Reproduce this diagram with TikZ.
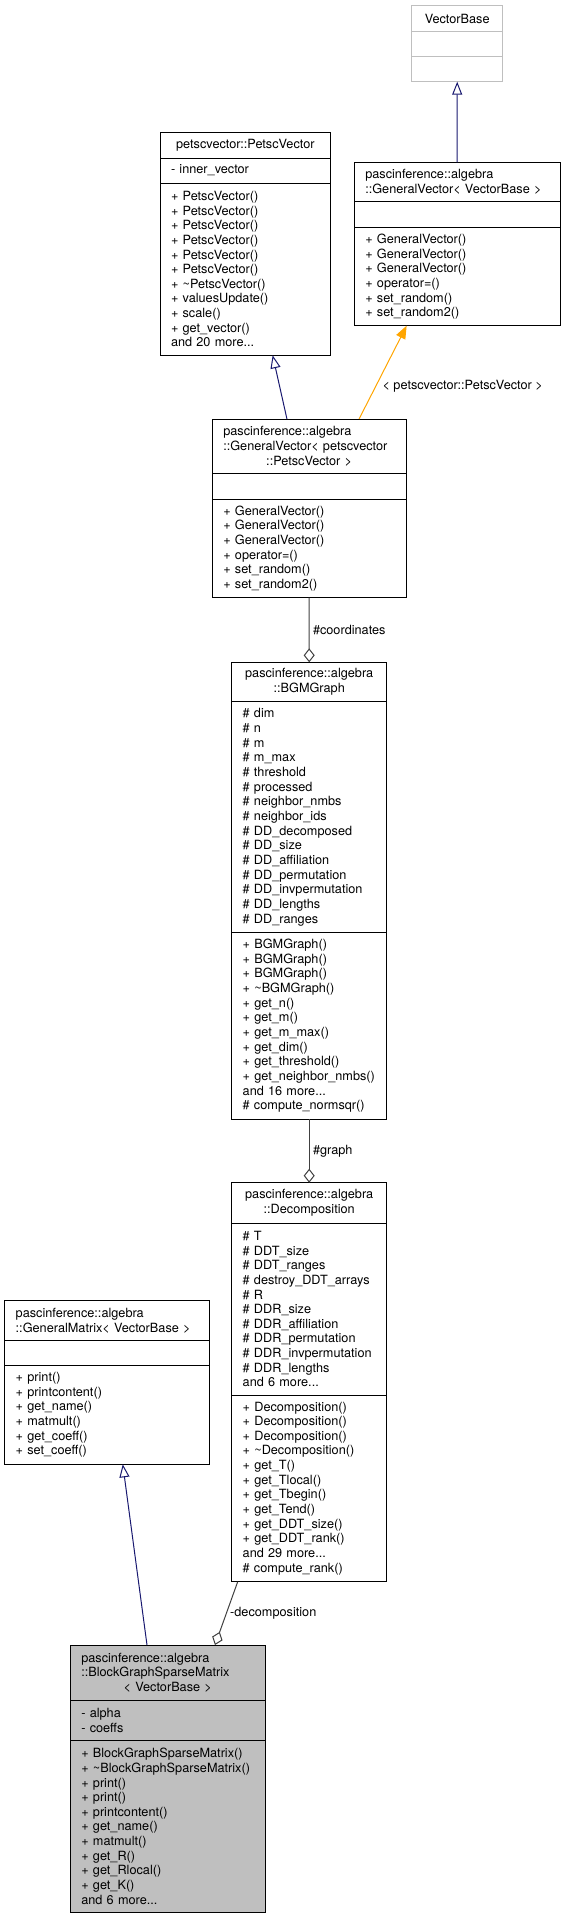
\documentclass[tikz,border=0pt]{standalone}
\usepackage{fontspec}
\setmainfont{TeX Gyre Heros}
\usepackage{tikz}
\usetikzlibrary{arrows.meta,positioning}
\definecolor{inhblue}{RGB}{25,25,112}
\definecolor{tplorange}{RGB}{255,165,0}
\definecolor{usegray}{RGB}{64,64,64}
\definecolor{extgray}{RGB}{191,191,191}

\begin{document}
\begin{tikzpicture}[
  x=1pt, y=-1pt,
  font=\fontsize{12.7}{14.65}\selectfont,
  class part/.style={rectangle, draw=black, line width=1pt, outer sep=0pt,
    inner xsep=11pt, inner ysep=1pt, align=left,
    execute at begin node={\rightskip=0pt plus 1fil minus 60pt\relax}},
  class head/.style={class part,
    execute at begin node={\let\\=\endgraf\leftskip=0pt plus 1fil\rightskip=0pt plus 1fil minus 60pt\parfillskip=0pt\relax}},
  inherit edge/.style={draw=inhblue, line width=1pt, -{Triangle[open, length=13pt, width=10pt]}},
  template edge/.style={draw=tplorange, line width=1pt, -{Triangle[length=13pt, width=10pt]}},
  usage edge/.style={draw=usegray, line width=1pt, -{Diamond[open, length=14pt, width=11pt]}},
  edge label/.style={text=black}
]
  \useasboundingbox (0,0) rectangle (565,1919);

  % VectorBase (external class, grey frame)
  \node[class head, draw=extgray, text width=69pt, minimum height=26pt, anchor=north west] (vb-head) at (411.7, 5.7) {VectorBase};
  \node[class part, draw=extgray, text width=69pt, minimum height=25pt, below=0pt of vb-head] (vb-attr) {};
  \node[class part, draw=extgray, text width=69pt, minimum height=25pt, below=0pt of vb-attr] (vb-ops) {};

  % petscvector::PetscVector
  \node[class head, text width=148.7pt, minimum height=25.3pt, anchor=north west] (pv-head) at (160, 132.7) {petscvector::PetscVector};
  \node[class part, text width=148.7pt, minimum height=25pt, below=0pt of pv-head] (pv-attr) {- inner\_vector};
  \node[class part, text width=148.7pt, minimum height=172.3pt, below=0pt of pv-attr] (pv-ops) {%
    + PetscVector()\\+ PetscVector()\\+ PetscVector()\\+ PetscVector()\\+ PetscVector()\\+ PetscVector()\\
    + \textasciitilde PetscVector()\\+ valuesUpdate()\\+ scale()\\+ get\_vector()\\and 20 more...};

  % GeneralVector< VectorBase >
  \node[class part, text width=183.7pt, minimum height=39.4pt, anchor=north west] (gvvb-head) at (354.3, 162.3) {pascinference::algebra\\::GeneralVector< VectorBase >};
  \node[class part, text width=183.7pt, minimum height=26pt, below=0pt of gvvb-head] (gvvb-attr) {};
  \node[class part, text width=183.7pt, minimum height=98pt, below=0pt of gvvb-attr] (gvvb-ops) {%
    + GeneralVector()\\+ GeneralVector()\\+ GeneralVector()\\+ operator=()\\+ set\_random()\\+ set\_random2()};

  % GeneralVector< petscvector::PetscVector >
  \node[class part, text width=171.7pt, minimum height=54.7pt, anchor=north west] (gvp-head) at (212.3, 419) {pascinference::algebra\\::GeneralVector< petscvector\\\makebox[\linewidth]{::PetscVector >}};
  \node[class part, text width=171.7pt, minimum height=25.3pt, below=0pt of gvp-head] (gvp-attr) {};
  \node[class part, text width=171.7pt, minimum height=98.7pt, below=0pt of gvp-attr] (gvp-ops) {%
    + GeneralVector()\\+ GeneralVector()\\+ GeneralVector()\\+ operator=()\\+ set\_random()\\+ set\_random2()};

  % BGMGraph
  \node[class head, text width=133pt, minimum height=39.4pt, anchor=north west] (bgm-head) at (231.7, 662.3) {pascinference::algebra\\::BGMGraph};
  \node[class part, text width=133pt, minimum height=231pt, below=0pt of bgm-head] (bgm-attr) {%
    \# dim\\\# n\\\# m\\\# m\_max\\\# threshold\\\# processed\\\# neighbor\_nmbs\\\# neighbor\_ids\\
    \# DD\_decomposed\\\# DD\_size\\\# DD\_affiliation\\\# DD\_permutation\\\# DD\_invpermutation\\
    \# DD\_lengths\\\# DD\_ranges};
  \node[class part, text width=133pt, minimum height=186.3pt, below=0pt of bgm-attr] (bgm-ops) {%
    + BGMGraph()\\+ BGMGraph()\\+ BGMGraph()\\+ \textasciitilde BGMGraph()\\+ get\_n()\\+ get\_m()\\
    + get\_m\_max()\\+ get\_dim()\\+ get\_threshold()\\+ get\_neighbor\_nmbs()\\and 16 more...\\
    \# compute\_normsqr()};

  % Decomposition
  \node[class head, text width=133pt, minimum height=40.6pt, anchor=north west] (dec-head) at (231.7, 1182.7) {pascinference::algebra\\::Decomposition};
  \node[class part, text width=133pt, minimum height=171.7pt, below=0pt of dec-head] (dec-attr) {%
    \# T\\\# DDT\_size\\\# DDT\_ranges\\\# destroy\_DDT\_arrays\\\# R\\\# DDR\_size\\\# DDR\_affiliation\\
    \# DDR\_permutation\\\# DDR\_invpermutation\\\# DDR\_lengths\\and 6 more...};
  \node[class part, text width=133pt, minimum height=186.7pt, below=0pt of dec-attr] (dec-ops) {%
    + Decomposition()\\+ Decomposition()\\+ Decomposition()\\+ \textasciitilde Decomposition()\\
    + get\_T()\\+ get\_Tlocal()\\+ get\_Tbegin()\\+ get\_Tend()\\+ get\_DDT\_size()\\+ get\_DDT\_rank()\\
    and 29 more...\\\# compute\_rank()};

  % GeneralMatrix< VectorBase >
  \node[class part, text width=182.3pt, minimum height=40pt, anchor=north west] (gm-head) at (4.7, 1300.7) {pascinference::algebra\\::GeneralMatrix< VectorBase >};
  \node[class part, text width=182.3pt, minimum height=25pt, below=0pt of gm-head] (gm-attr) {};
  \node[class part, text width=182.3pt, minimum height=98.6pt, below=0pt of gm-attr] (gm-ops) {%
    + print()\\+ printcontent()\\+ get\_name()\\+ matmult()\\+ get\_coeff()\\+ set\_coeff()};

  % BlockGraphSparseMatrix (the documented class, grey fill)
  \node[class part, fill=extgray, text width=173pt, minimum height=55.3pt, anchor=north west] (bgsm-head) at (70.3, 1645) {pascinference::algebra\\::BlockGraphSparseMatrix\\\makebox[\linewidth]{< VectorBase >}};
  \node[class part, fill=extgray, text width=173pt, minimum height=40pt, below=0pt of bgsm-head] (bgsm-attr) {- alpha\\- coeffs};
  \node[class part, fill=extgray, text width=173pt, minimum height=172pt, below=0pt of bgsm-attr] (bgsm-ops) {%
    + BlockGraphSparseMatrix()\\+ \textasciitilde BlockGraphSparseMatrix()\\+ print()\\+ print()\\
    + printcontent()\\+ get\_name()\\+ matmult()\\+ get\_R()\\+ get\_Rlocal()\\+ get\_K()\\and 6 more...};

  % inheritance and template edges
  \draw[inherit edge] (gvvb-head.north) -- (vb-ops.south);
  \draw[inherit edge] ([xshift=-22.2pt]gvp-head.north) -- ([xshift=27.3pt]pv-ops.south);
  \draw[template edge] ([xshift=49.9pt]gvp-head.north) -- node[edge label, right, pos=0.35, xshift=3pt] (tpl-label) {< petscvector::PetscVector >} ([xshift=-50.5pt]gvvb-ops.south);
  \draw[inherit edge] ([xshift=-20.8pt]bgsm-head.north) -- ([xshift=15.9pt]gm-ops.south);

  % usage edges
  \draw[usage edge] (gvp-ops.south) -- node[edge label, right] (coord-label) {\#coordinates} (bgm-head.north);
  \draw[usage edge] (bgm-ops.south) -- node[edge label, right] (graph-label) {\#graph} (dec-head.north);
  \draw[usage edge] ([xshift=-71.5pt]dec-ops.south) -- node[edge label, right] (dec-label) {-decomposition} ([xshift=47.2pt]bgsm-head.north);
\end{tikzpicture}
\end{document}
